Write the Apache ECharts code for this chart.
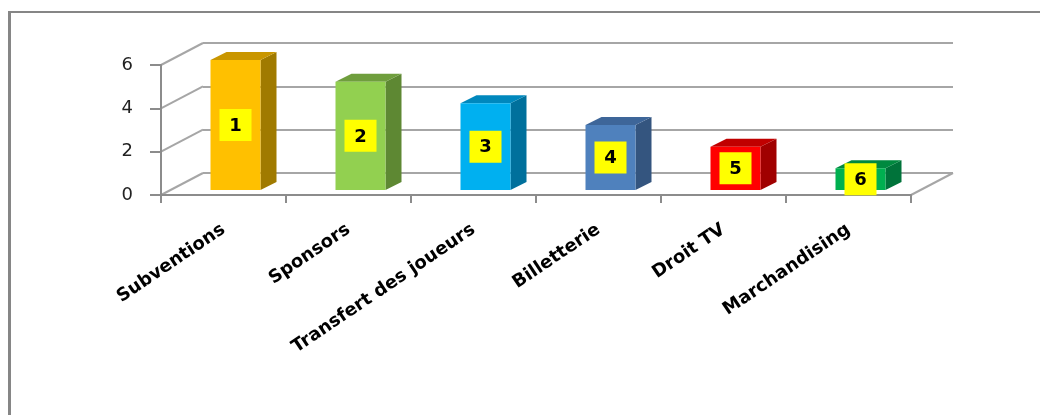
<!DOCTYPE html>
<html>
<head>
<meta charset="utf-8">
<script src="https://cdn.jsdelivr.net/npm/echarts@6/dist/echarts.min.js"></script>
<style>
html,body{margin:0;padding:0;background:#fff;}
#chart{width:1040px;height:415px;}
</style>
</head>
<body>
<div id="chart"></div>
<script>
// ---- data ----
const categories = ['Subventions', 'Sponsors', 'Transfert des joueurs', 'Billetterie', 'Droit TV', 'Marchandising'];
const values = [6, 5, 4, 3, 2, 1];
const ranks = ['1', '2', '3', '4', '5', '6'];
const yTicks = [0, 2, 4, 6];

// ---- styles ----
const frontColors = ['#FFC000', '#92D050', '#00B0F0', '#4F81BD', '#FF0000', '#00B050'];
const topColors   = ['#C99600', '#6F9E3D', '#0088BD', '#3E6699', '#C00000', '#00893F'];
const sideColors  = ['#A07A00', '#5E8833', '#00709C', '#34557F', '#A00000', '#00733A'];
const gridColor = '#A6A6A6';
const axisColor = '#8C8C8C';
const DEPTH = [42, -22];      // back wall offset relative to front plane
const BAR_SHIFT = [12, -5];   // bar front face offset relative to front plane
const BAR_DEPTH = [16, -8];   // bar's own depth

const chart = echarts.init(document.getElementById('chart'), null, {renderer: 'canvas'});

function wallItem(params, api) {
  const v = api.value(1);
  const c = api.coord([0, v]);
  const band = api.size([1, 0])[0];
  const bx = c[0] - band / 2, by = c[1];
  const children = [{
    type: 'line',
    shape: {x1: bx - DEPTH[0], y1: by - DEPTH[1], x2: bx, y2: by},
    style: {stroke: gridColor, lineWidth: 2}
  }];
  if (v === 0) {
    const cr = api.coord([categories.length - 1, 0]);
    const rx = cr[0] + band / 2;
    children.push({
      type: 'line',
      shape: {x1: rx - DEPTH[0], y1: cr[1] - DEPTH[1], x2: rx, y2: cr[1]},
      style: {stroke: gridColor, lineWidth: 2}
    });
  }
  return {type: 'group', children: children};
}

function barItem(params, api) {
  const i = api.value(0), v = api.value(1);
  const topPt = api.coord([i, v]);
  const basePt = api.coord([i, 0]);
  const band = api.size([1, 0])[0];
  const w = band * 0.4;
  const x0 = topPt[0] - w / 2 + BAR_SHIFT[0];
  const x1 = x0 + w;
  const yT = topPt[1] + BAR_SHIFT[1];
  const yB = basePt[1] + BAR_SHIFT[1];
  const dx = BAR_DEPTH[0], dy = BAR_DEPTH[1];
  const cx = (x0 + x1) / 2, cy = (yT + yB) / 2;
  return {
    type: 'group',
    children: [
      {type: 'polygon', shape: {points: [[x1, yB], [x1, yT], [x1 + dx, yT + dy], [x1 + dx, yB + dy]]},
       style: {fill: sideColors[i]}},
      {type: 'polygon', shape: {points: [[x0, yT], [x1, yT], [x1 + dx, yT + dy], [x0 + dx, yT + dy]]},
       style: {fill: topColors[i]}},
      {type: 'rect', shape: {x: x0, y: yT, width: w, height: yB - yT},
       style: {fill: frontColors[i]}},
      {type: 'rect', shape: {x: cx - 16, y: cy - 16, width: 32, height: 32},
       style: {fill: '#FFFF00'}},
      {type: 'text', x: cx, y: cy + 1,
       style: {text: ranks[i], align: 'center', verticalAlign: 'middle',
               font: 'bold 18px "DejaVu Sans"', fill: '#000'}}
    ]
  };
}

const option = {
  backgroundColor: '#ffffff',
  animation: false,
  graphic: [
    {type: 'line', shape: {x1: 9.5, y1: 11, x2: 9.5, y2: 420}, style: {stroke: '#868686', lineWidth: 3}, z: 100},
    {type: 'line', shape: {x1: 8, y1: 12, x2: 1045, y2: 12}, style: {stroke: '#868686', lineWidth: 2}, z: 100}
  ],
  grid: [
    {left: 161, right: 129, top: 65, bottom: 220},
    {left: 161 + DEPTH[0], right: 129 - DEPTH[0], top: 65 + DEPTH[1], bottom: 220 - DEPTH[1]}
  ],
  xAxis: [
    {
      type: 'category', gridIndex: 0, data: categories, boundaryGap: true,
      axisLine: {show: true, lineStyle: {color: axisColor, width: 2}},
      axisTick: {show: true, length: 8, alignWithLabel: false, lineStyle: {color: axisColor, width: 2}},
      axisLabel: {
        interval: 0, rotate: 34, margin: 33,
        fontFamily: 'DejaVu Sans', fontWeight: 'bold', fontSize: 18, color: '#000'
      },
      splitLine: {show: false}, z: 5
    },
    {
      type: 'category', gridIndex: 1, data: categories, boundaryGap: true,
      axisLine: {show: false}, axisTick: {show: false}, axisLabel: {show: false}, splitLine: {show: false}
    }
  ],
  yAxis: [
    {
      type: 'value', gridIndex: 0, min: 0, max: 6, interval: 2,
      axisLine: {show: true, lineStyle: {color: axisColor, width: 2}},
      axisTick: {show: true, length: 11, lineStyle: {color: axisColor, width: 2}},
      axisLabel: {
        margin: 28, fontFamily: 'DejaVu Sans', fontSize: 18, color: '#222',
        formatter: function (v) { return yTicks.indexOf(v) >= 0 ? String(v) : ''; }
      },
      splitLine: {show: false}, z: 5
    },
    {
      type: 'value', gridIndex: 1, min: 0, max: 6, interval: 2,
      axisLine: {show: false}, axisTick: {show: false}, axisLabel: {show: false},
      splitLine: {show: true, lineStyle: {color: gridColor, width: 2}}
    }
  ],
  series: [
    {
      type: 'custom', name: 'walls', xAxisIndex: 1, yAxisIndex: 1, z: 1,
      renderItem: wallItem, silent: true,
      data: yTicks.map(function (t) { return [0, t]; })
    },
    {
      type: 'custom', name: 'Ressources', xAxisIndex: 0, yAxisIndex: 0, z: 10,
      renderItem: barItem,
      encode: {x: 0, y: 1},
      data: values.map(function (v, i) { return [i, v]; })
    }
  ]
};
chart.setOption(option);
</script>
</body>
</html>
